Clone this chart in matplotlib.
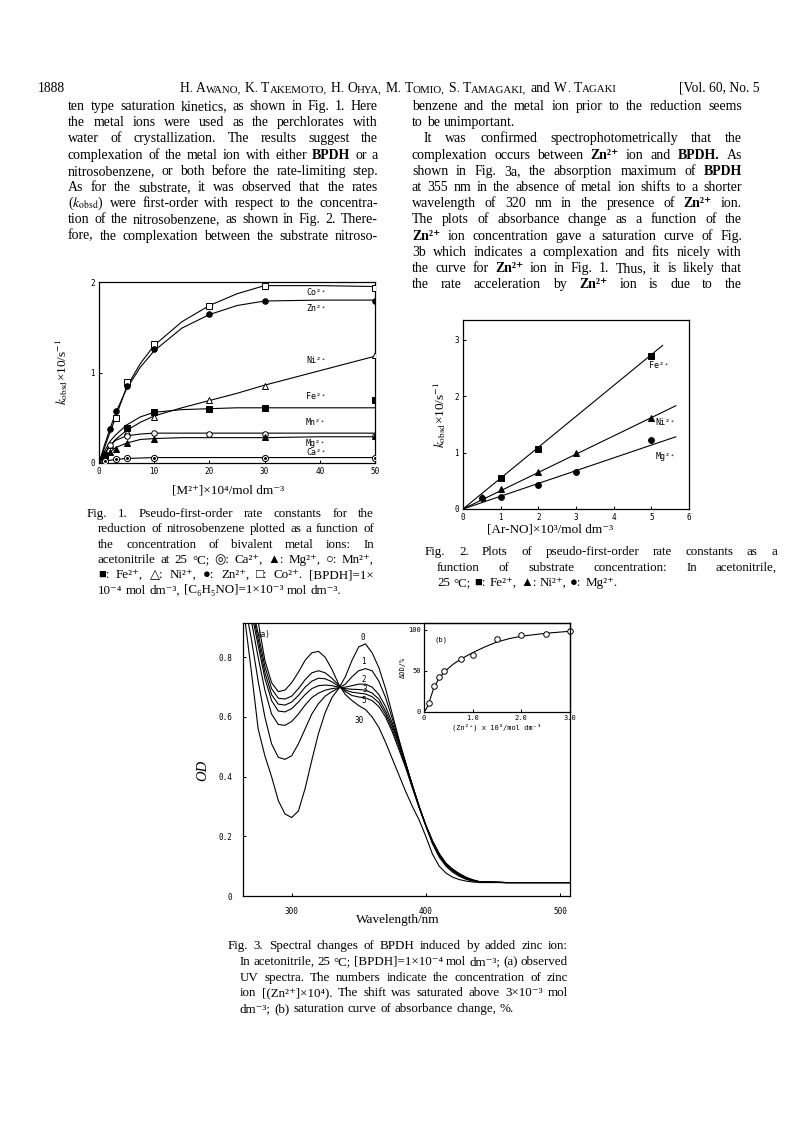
import numpy as np
import matplotlib.pyplot as plt

plt.rcParams['font.family'] = ['DejaVu Sans Mono']
plt.rcParams['mathtext.fontset'] = 'stix'
plt.rcParams['axes.linewidth'] = 0.9

SERIF = ['Liberation Serif', 'DejaVu Serif', 'DejaVu Sans']
W, H = 793, 1121

# ---------------- Fig. 1 : k_obsd x10 / s-1  vs  [M2+] x10^4
co_x = [3, 5, 10, 20, 30, 50]
co_y = [0.50, 0.90, 1.31, 1.73, 1.96, 1.93]
zn_x = [1, 2, 3, 5, 10, 20, 30, 50]
zn_y = [0.10, 0.38, 0.58, 0.85, 1.26, 1.65, 1.79, 1.79]
ni_x = [2, 5, 10, 20, 30, 50]
ni_y = [0.20, 0.34, 0.51, 0.70, 0.85, 1.19]
fe_x = [1, 5, 10, 20, 30, 50]
fe_y = [0.08, 0.39, 0.56, 0.60, 0.61, 0.70]
mn_x = [2, 5, 10, 20, 30, 50]
mn_y = [0.20, 0.30, 0.33, 0.32, 0.32, 0.30]
mg_x = [2, 3, 5, 10, 30, 50]
mg_y = [0.12, 0.16, 0.22, 0.27, 0.29, 0.30]
ca_x = [1, 3, 5, 10, 30, 50]
ca_y = [0.02, 0.04, 0.05, 0.06, 0.06, 0.06]

# fitted curves as drawn in the figure
fit_x = [0, 1, 2, 3, 5, 7.5, 10, 15, 20, 25, 30, 40, 50]
co_fit = [0, 0.17, 0.34, 0.50, 0.84, 1.10, 1.30, 1.56, 1.74, 1.87, 1.96, 1.96, 1.95]
zn_fit = [0, 0.20, 0.38, 0.55, 0.82, 1.06, 1.24, 1.49, 1.64, 1.74, 1.79, 1.80, 1.80]
ni_fit = [0, 0.10, 0.19, 0.26, 0.36, 0.45, 0.52, 0.61, 0.69, 0.77, 0.86, 1.02, 1.18]
fe_fit = [0, 0.13, 0.24, 0.31, 0.42, 0.51, 0.56, 0.59, 0.60, 0.61, 0.61, 0.61, 0.61]
mn_fit = [0, 0.10, 0.19, 0.25, 0.30, 0.32, 0.33, 0.33, 0.33, 0.33, 0.33, 0.33, 0.33]
mg_fit = [0, 0.06, 0.12, 0.17, 0.22, 0.26, 0.27, 0.28, 0.28, 0.28, 0.28, 0.29, 0.29]
ca_fit = [0, 0.02, 0.03, 0.04, 0.05, 0.055, 0.06, 0.06, 0.06, 0.06, 0.06, 0.06, 0.06]

# ---------------- Fig. 2 : k_obsd vs [Ar-NO] x10^3
f2_fe_x = [1, 2, 5]
f2_fe_y = [0.55, 1.07, 2.72]
f2_ni_x = [0.5, 1, 2, 3, 5]
f2_ni_y = [0.21, 0.35, 0.66, 0.99, 1.62]
f2_mg_x = [0.5, 1, 2, 3, 5]
f2_mg_y = [0.19, 0.22, 0.43, 0.65, 1.22]
f2_line_fe = ([0, 5.3], [0, 2.90])
f2_line_ni = ([0, 5.65], [0, 1.83])
f2_line_mg = ([0, 5.65], [0, 1.28])

# ---------------- Fig. 3a : spectra (OD vs wavelength), [Zn2+] x10^4
wl = [265, 270, 275, 280, 285, 290, 295, 300, 305, 310, 315, 320, 325, 330, 335,
      340, 345, 350, 355, 360, 365, 370, 375, 380, 385, 390, 395, 400, 405, 410,
      415, 420, 425, 430, 435, 440, 460, 480, 507]
od_0 = [0.93, 0.75, 0.56, 0.47, 0.40, 0.32, 0.275, 0.263, 0.285, 0.36, 0.455, 0.545, 0.615,
        0.665, 0.695, 0.735, 0.79, 0.835, 0.845, 0.815, 0.765, 0.695, 0.61, 0.525, 0.445,
        0.37, 0.30, 0.235, 0.175, 0.13, 0.10, 0.08, 0.066, 0.056, 0.05, 0.047, 0.045, 0.045, 0.045]
od_1 = [0.98, 0.86, 0.72, 0.60, 0.51, 0.465, 0.458, 0.47, 0.51, 0.56, 0.61, 0.645, 0.67,
        0.685, 0.697, 0.71, 0.735, 0.755, 0.762, 0.755, 0.72, 0.665, 0.595, 0.52, 0.445,
        0.37, 0.30, 0.235, 0.178, 0.134, 0.104, 0.084, 0.069, 0.058, 0.051, 0.047, 0.045, 0.045, 0.045]
od_2 = [1.0, 0.92, 0.80, 0.69, 0.61, 0.575, 0.572, 0.585, 0.61, 0.64, 0.665, 0.68, 0.69,
        0.695, 0.698, 0.70, 0.705, 0.71, 0.71, 0.70, 0.675, 0.635, 0.58, 0.515, 0.445,
        0.37, 0.30, 0.237, 0.181, 0.137, 0.106, 0.086, 0.071, 0.059, 0.052, 0.047, 0.045, 0.045, 0.045]
od_3 = [1.02, 0.95, 0.84, 0.73, 0.655, 0.62, 0.617, 0.628, 0.65, 0.675, 0.695, 0.705, 0.707,
        0.705, 0.70, 0.695, 0.693, 0.692, 0.69, 0.68, 0.66, 0.62, 0.57, 0.51, 0.44,
        0.37, 0.30, 0.238, 0.183, 0.14, 0.108, 0.088, 0.073, 0.061, 0.053, 0.048, 0.045, 0.045, 0.045]
od_5 = [1.03, 0.97, 0.86, 0.75, 0.675, 0.643, 0.64, 0.65, 0.672, 0.70, 0.72, 0.73, 0.728,
        0.718, 0.703, 0.69, 0.683, 0.68, 0.677, 0.668, 0.648, 0.61, 0.56, 0.50, 0.435,
        0.365, 0.298, 0.237, 0.184, 0.141, 0.109, 0.089, 0.074, 0.062, 0.054, 0.048, 0.045, 0.045, 0.045]
od_10 = [1.04, 0.98, 0.88, 0.77, 0.695, 0.663, 0.66, 0.67, 0.695, 0.725, 0.748, 0.755, 0.748,
         0.73, 0.707, 0.685, 0.672, 0.667, 0.664, 0.655, 0.635, 0.60, 0.55, 0.49, 0.43,
         0.362, 0.296, 0.236, 0.184, 0.142, 0.11, 0.09, 0.075, 0.063, 0.054, 0.048, 0.045, 0.045, 0.045]
od_30 = [1.05, 1.0, 0.92, 0.79, 0.715, 0.685, 0.69, 0.715, 0.75, 0.79, 0.815, 0.82, 0.80,
         0.76, 0.71, 0.675, 0.655, 0.638, 0.625, 0.60, 0.565, 0.515, 0.46, 0.405, 0.35,
         0.30, 0.255, 0.20, 0.14, 0.10, 0.077, 0.063, 0.055, 0.05, 0.047, 0.045, 0.045, 0.045, 0.045]

# ---------------- Fig. 3b : dOD % vs [Zn2+] x10^3
zn3_x = [0.1, 0.2, 0.3, 0.42, 0.75, 1.0, 1.5, 2.0, 2.5, 3.0]
dod_y = [10.5, 31, 42, 50, 64, 69, 88, 93, 95, 97.7]
sat_x = [0, 0.05, 0.1, 0.2, 0.3, 0.42, 0.6, 0.75, 1.0, 1.25, 1.5, 1.75, 2.0, 2.5, 3.0]
sat_y = [0, 4, 11, 29, 40, 49, 58, 64, 72, 79, 85, 89, 92, 95.5, 98]

# ---------------- page text
header_left = "1888"
header_right = "[Vol. 60, No. 5"
header_authors = "H. Awano, K. Takemoto, H. Ohya, M. Tomio, S. Tamagaki, and W. Tagaki"

left_col = [
    "ten type saturation kinetics, as shown in Fig. 1. Here",
    "the metal ions were used as the perchlorates with",
    "water of crystallization. The results suggest the",
    "complexation of the metal ion with either @BPDH or a",
    "nitrosobenzene, or both before the rate-limiting step.",
    "As for the substrate, it was observed that the rates",
    "($k_\\mathrm{obsd}$) were first-order with respect to the concentra-",
    "tion of the nitrosobenzene, as shown in Fig. 2. There-",
    "fore, the complexation between the substrate nitroso-",
]
right_col = [
    "benzene and the metal ion prior to the reduction seems",
    "to be unimportant.",
    "It was confirmed spectrophotometrically that the",
    "complexation occurs between @Zn²⁺ ion and @BPDH. As",
    "shown in Fig. 3a, the absorption maximum of @BPDH",
    "at 355 nm in the absence of metal ion shifts to a shorter",
    "wavelength of 320 nm in the presence of @Zn²⁺ ion.",
    "The plots of absorbance change as a function of the",
    "@Zn²⁺ ion concentration gave a saturation curve of Fig.",
    "3b which indicates a complexation and fits nicely with",
    "the curve for @Zn²⁺ ion in Fig. 1. Thus, it is likely that",
    "the rate acceleration by @Zn²⁺ ion is due to the",
]
cap1 = [
    "Fig. 1. Pseudo-first-order rate constants for the",
    "reduction of nitrosobenzene plotted as a function of",
    "the concentration of bivalent metal ions: In",
    "acetonitrile at 25 °C; ◎: Ca²⁺, ▲: Mg²⁺, ○: Mn²⁺,",
    "■: Fe²⁺, △: Ni²⁺, ●: Zn²⁺, □: Co²⁺. [BPDH]=1×",
    "10⁻⁴ mol dm⁻³, [C₆H₅NO]=1×10⁻³ mol dm⁻³.",
]
cap2 = [
    "Fig. 2. Plots of pseudo-first-order rate constants as a",
    "function of substrate concentration: In acetonitrile,",
    "25 °C; ■: Fe²⁺, ▲: Ni²⁺, ●: Mg²⁺.",
]
cap3 = [
    "Fig. 3. Spectral changes of BPDH induced by added zinc ion:",
    "In acetonitrile, 25 °C; [BPDH]=1×10⁻⁴ mol dm⁻³; (a) observed",
    "UV spectra. The numbers indicate the concentration of zinc",
    "ion [(Zn²⁺]×10⁴). The shift was saturated above 3×10⁻³ mol",
    "dm⁻³; (b) saturation curve of absorbance change, %.",
]

fig = plt.figure(figsize=(W / 100, H / 100), dpi=100)
renderer = fig.canvas.get_renderer()


def fx(x):
    return x / W


def fy(y):
    return 1 - y / H


def add_ax(left, top, right, bottom):
    return fig.add_axes([fx(left), fy(bottom), (right - left) / W, (bottom - top) / H])


def word(s, size, weight='normal'):
    if s.startswith('@'):
        s, weight = s[1:], 'bold'
    return fig.text(0, 0, s, fontsize=size, family=SERIF, weight=weight, va='baseline')


def text_line(line, x0, x1, y, size, justify=True):
    objs = [word(w, size) for w in line.split()]
    widths = [o.get_window_extent(renderer).width for o in objs]
    if justify and len(objs) > 1:
        gap = (x1 - x0 - sum(widths)) / (len(objs) - 1)
    else:
        gap = size * 0.38
    x = x0
    for o, w in zip(objs, widths):
        o.set_position((fx(x), fy(y)))
        x += w + gap


def block(lines, x0, x1, y0, dy, size, ragged=(), indent=None, first_x=None):
    for i, ln in enumerate(lines):
        xs = x0
        if indent and i in indent:
            xs = x0 + indent[i]
        if i == 0 and first_x is not None:
            xs = first_x
        text_line(ln, xs, x1, y0 + i * dy, size, justify=i not in ragged)


def small_caps(text, xc, y, big, small):
    objs = []
    for w in text.split():
        parts = [(w, big)] if w == 'and' else [(w[0], big), (w[1:].upper(), small)]
        grp = [word(p, s) for p, s in parts if p]
        objs.append(grp)
    widths = [[o.get_window_extent(renderer).width for o in g] for g in objs]
    gap = big * 0.4
    total = sum(sum(ws) for ws in widths) + gap * (len(objs) - 1)
    x = xc - total / 2
    for g, ws in zip(objs, widths):
        for o, w in zip(g, ws):
            o.set_position((fx(x), fy(y)))
            x += w
        x += gap


def style(ax, size=5.5):
    ax.tick_params(direction='in', length=2.5, width=0.7, labelsize=size, pad=3,
                   top=False, right=False)


# ---------------- header and body text
fig.text(fx(38), fy(92), header_left, fontsize=9.8, family=SERIF, va='baseline')
fig.text(fx(760), fy(92), header_right, fontsize=9.8, family=SERIF, va='baseline', ha='right')
small_caps(header_authors, 398, 92, 9.8, 7.8)
block(left_col, 68, 378, 110, 16.2, 10.0)
block(right_col, 412, 742, 110, 16.2, 10.0, ragged=(1,), indent={2: 12})

# ---------------- Fig. 1
ax1 = add_ax(99, 282, 375, 463)
lk = dict(color='black', lw=0.8, zorder=2)
for curve in (co_fit, zn_fit, ni_fit, fe_fit, mn_fit, mg_fit, ca_fit):
    ax1.plot(fit_x, curve, **lk)
mk = dict(ls='none', mec='black', mew=0.7, zorder=3)
ax1.plot(co_x, co_y, marker='s', ms=4.2, mfc='white', **mk)
ax1.plot(zn_x, zn_y, marker='o', ms=4.0, mfc='black', **mk)
ax1.plot(ni_x, ni_y, marker='^', ms=4.0, mfc='white', **mk)
ax1.plot(fe_x, fe_y, marker='s', ms=4.0, mfc='black', **mk)
ax1.plot(mn_x, mn_y, marker='o', ms=4.0, mfc='white', **mk)
ax1.plot(mg_x, mg_y, marker='^', ms=4.0, mfc='black', **mk)
ax1.plot(ca_x, ca_y, marker='o', ms=4.4, mfc='white', **mk)
ax1.plot(ca_x, ca_y, marker='o', ms=1.4, mfc='black', **mk)
ax1.set_xlim(0, 50)
ax1.set_ylim(0, 2)
ax1.set_xticks([0, 10, 20, 30, 40, 50])
ax1.set_yticks([0, 1, 2])
style(ax1)
for name, yy in [('Co²⁺', 1.88), ('Zn²⁺', 1.71), ('Ni²⁺', 1.13), ('Fe²⁺', 0.74),
                 ('Mn²⁺', 0.45), ('Mg²⁺', 0.22), ('Ca²⁺', 0.115)]:
    ax1.text(37.5, yy, name, fontsize=6, va='center')
fig.text(fx(62), fy(372), "$k_\\mathrm{obsd}$×10/s$^{-1}$", rotation=90, fontsize=9.5,
         family=SERIF, ha='center', va='center')
fig.text(fx(228), fy(494), "[M²⁺]×10⁴/mol dm⁻³", fontsize=9.5, family=SERIF,
         ha='center', va='baseline')
block(cap1, 98, 374, 517, 15.3, 9.4, ragged=(5,), first_x=87)

# ---------------- Fig. 2
ax2 = add_ax(463, 320, 689, 509)
ax2.plot(*f2_line_fe, **lk)
ax2.plot(*f2_line_ni, **lk)
ax2.plot(*f2_line_mg, **lk)
ax2.plot(f2_fe_x, f2_fe_y, marker='s', ms=4.2, mfc='black', **mk)
ax2.plot(f2_ni_x, f2_ni_y, marker='^', ms=4.2, mfc='black', **mk)
ax2.plot(f2_mg_x, f2_mg_y, marker='o', ms=4.2, mfc='black', **mk)
ax2.set_xlim(0, 6)
ax2.set_ylim(0, 3.35)
ax2.set_xticks(range(7))
ax2.set_yticks([0, 1, 2, 3])
style(ax2)
ax2.text(4.95, 2.55, 'Fe²⁺', fontsize=6, va='center')
ax2.text(5.12, 1.53, 'Ni²⁺', fontsize=6, va='center')
ax2.text(5.12, 0.93, 'Mg²⁺', fontsize=6, va='center')
fig.text(fx(440), fy(415), "$k_\\mathrm{obsd}$×10/s$^{-1}$", rotation=90, fontsize=9.5,
         family=SERIF, ha='center', va='center')
fig.text(fx(550), fy(532), "[Ar-NO]×10³/mol dm⁻³", fontsize=9.5, family=SERIF,
         ha='center', va='baseline')
block(cap2, 437, 777, 555, 15.5, 9.4, ragged=(2,), first_x=425)

# ---------------- Fig. 3
ax3 = add_ax(243, 623, 570, 896)
for od in (od_0, od_1, od_2, od_3, od_5, od_10, od_30):
    ax3.plot(wl, od, color='black', lw=0.8)
ax3.set_xlim(263.7, 507.5)
ax3.set_ylim(0, 0.915)
ax3.set_xticks([300, 400, 500])
ax3.set_yticks([0, 0.2, 0.4, 0.6, 0.8])
ax3.set_yticklabels(['0', '0.2', '0.4', '0.6', '0.8'])
style(ax3)
ax3.tick_params(pad=8)
ax3.text(274, 0.875, '(a)', fontsize=5.5, va='center')
for lab, xx, yy in [('0', 353, 0.868), ('1', 353.5, 0.787), ('2', 354, 0.724),
                    ('3', 354.5, 0.693), ('5', 353.5, 0.655), ('30', 350, 0.588)]:
    ax3.text(xx, yy, lab, fontsize=5.5, va='center', ha='center')
fig.text(fx(203), fy(770), "OD", rotation=90, fontsize=10.5, family=SERIF, style='italic',
         ha='center', va='center')
fig.text(fx(398), fy(923), "Wavelength/nm", fontsize=9.5, family=SERIF,
         ha='center', va='baseline')

axi = add_ax(424, 623, 570, 712)
axi.set_facecolor('none')
axi.plot(sat_x, sat_y, color='black', lw=0.8)
axi.plot(zn3_x, dod_y, ls='none', marker='o', ms=4.0, mfc='white', mec='black', mew=0.7,
         clip_on=False)
axi.set_xlim(0, 3.0)
axi.set_ylim(0, 108)
axi.set_xticks([0, 1, 2, 3])
axi.set_xticklabels(['0', '1.0', '2.0', '3.0'])
axi.set_yticks([0, 50, 100])
style(axi, 5)
axi.tick_params(pad=2)
axi.text(0.22, 88, '(b)', fontsize=5.2, va='center')
axi.set_ylabel('ΔOD/%', fontsize=5, labelpad=2)
axi.set_xlabel('(Zn²⁺) x 10³/mol dm⁻³', fontsize=5, labelpad=2)

block(cap3, 240, 568, 949, 15.8, 9.4, ragged=(4,), first_x=228)

fig.savefig('out.png', dpi=100)
